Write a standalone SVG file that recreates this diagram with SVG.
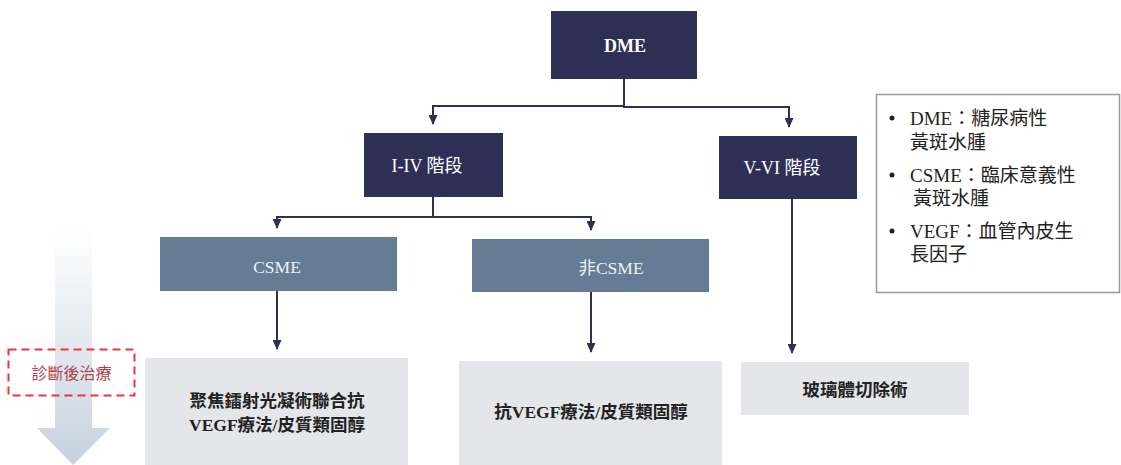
<svg xmlns="http://www.w3.org/2000/svg" width="1121" height="465" viewBox="0 0 1121 465">
<defs>
<linearGradient id="g" x1="0" y1="0" x2="0" y2="1">
<stop offset="0" stop-color="#ffffff"/>
<stop offset="1" stop-color="#c6d1dd"/>
</linearGradient>
<marker id="ah" markerWidth="10" markerHeight="9" refX="9" refY="4.5" orient="auto" markerUnits="userSpaceOnUse">
<path d="M0,0 L10,4.5 L0,9 Z" fill="#2e2f55"/>
</marker>
</defs>
<style>
text{font-family:"Liberation Serif","Noto Sans CJK TC",serif;}
.dark{fill:#2e2f55;}
.mid{fill:#657b96;}
.light{fill:#e4e6ea;}
.wt{fill:#ffffff;font-size:18px;text-anchor:middle;}
.mt{fill:#eef1f4;font-size:17.5px;text-anchor:middle;}
.tt{fill:#222222;font-size:17.5px;font-weight:bold;text-anchor:middle;}
.lg{fill:#222222;font-size:19px;}
.cn{fill:none;stroke:#2e2f55;stroke-width:2;}
</style>
<g id="flow-arrow">
<path d="M55,228 H92 V428 H110 L73,465 L37,428 H55 Z" fill="url(#g)"/>
</g>
<g id="after-diagnosis">
<rect x="8.5" y="349.5" width="126" height="46" fill="none" stroke="#e8373d" stroke-width="2" stroke-dasharray="8,5"/>
<text x="71.5" y="379" font-size="16" fill="#b5404a" text-anchor="middle" style="font-family:'Noto Sans CJK TC',sans-serif">診斷後治療</text>
</g>
<g id="connectors">
<path class="cn" d="M624,79 V106 H433 V124" marker-end="url(#ah)"/>
<path class="cn" d="M624,106 V107 H789 V127" marker-end="url(#ah)"/>
<path class="cn" d="M433,197 V217 H277 V228" marker-end="url(#ah)"/>
<path class="cn" d="M433,217 H591 V230" marker-end="url(#ah)"/>
<path class="cn" d="M277,291 V349" marker-end="url(#ah)"/>
<path class="cn" d="M591,292 V352" marker-end="url(#ah)"/>
<path class="cn" d="M792,199 V353" marker-end="url(#ah)"/>
</g>
<g id="dme">
<rect class="dark" x="551" y="11" width="146" height="68"/>
<text class="wt" x="625" y="52" font-weight="bold" font-size="19">DME</text>
</g>
<g id="stage-1-4">
<rect class="dark" x="364" y="133" width="139" height="64"/>
<text class="wt" x="427" y="172">I-IV 階段</text>
</g>
<g id="stage-5-6">
<rect class="dark" x="719" y="136" width="138" height="63"/>
<text class="wt" x="782" y="174">V-VI 階段</text>
</g>
<g id="csme">
<rect class="mid" x="160" y="237" width="237" height="54"/>
<text class="mt" x="277" y="273">CSME</text>
</g>
<g id="non-csme">
<rect class="mid" x="472" y="239" width="237" height="53"/>
<text class="mt" x="611" y="274">非CSME</text>
</g>
<g id="treat-1">
<rect class="light" x="145" y="358" width="263" height="107"/>
<text class="tt" x="277" y="407">聚焦鐳射光凝術聯合抗</text>
<text class="tt" x="277" y="431">VEGF療法/皮質類固醇</text>
</g>
<g id="treat-2">
<rect class="light" x="459" y="361" width="263" height="104"/>
<text class="tt" x="591" y="418">抗VEGF療法/皮質類固醇</text>
</g>
<g id="treat-3">
<rect class="light" x="741" y="362" width="228" height="53"/>
<text class="tt" x="855" y="396">玻璃體切除術</text>
</g>
<g id="legend">
<rect x="876.5" y="94.5" width="243" height="198" fill="#ffffff" stroke="#9a9a9a" stroke-width="1.5"/>
<circle cx="892" cy="118" r="2.5" fill="#222"/>
<text class="lg" x="910" y="125">DME：糖尿病性</text>
<text class="lg" x="910" y="149">黃斑水腫</text>
<circle cx="892" cy="175" r="2.5" fill="#222"/>
<text class="lg" x="910" y="182">CSME：臨床意義性</text>
<text class="lg" x="913" y="205">黃斑水腫</text>
<circle cx="892" cy="231" r="2.5" fill="#222"/>
<text class="lg" x="910" y="238">VEGF：血管內皮生</text>
<text class="lg" x="910" y="261">長因子</text>
</g>
</svg>
